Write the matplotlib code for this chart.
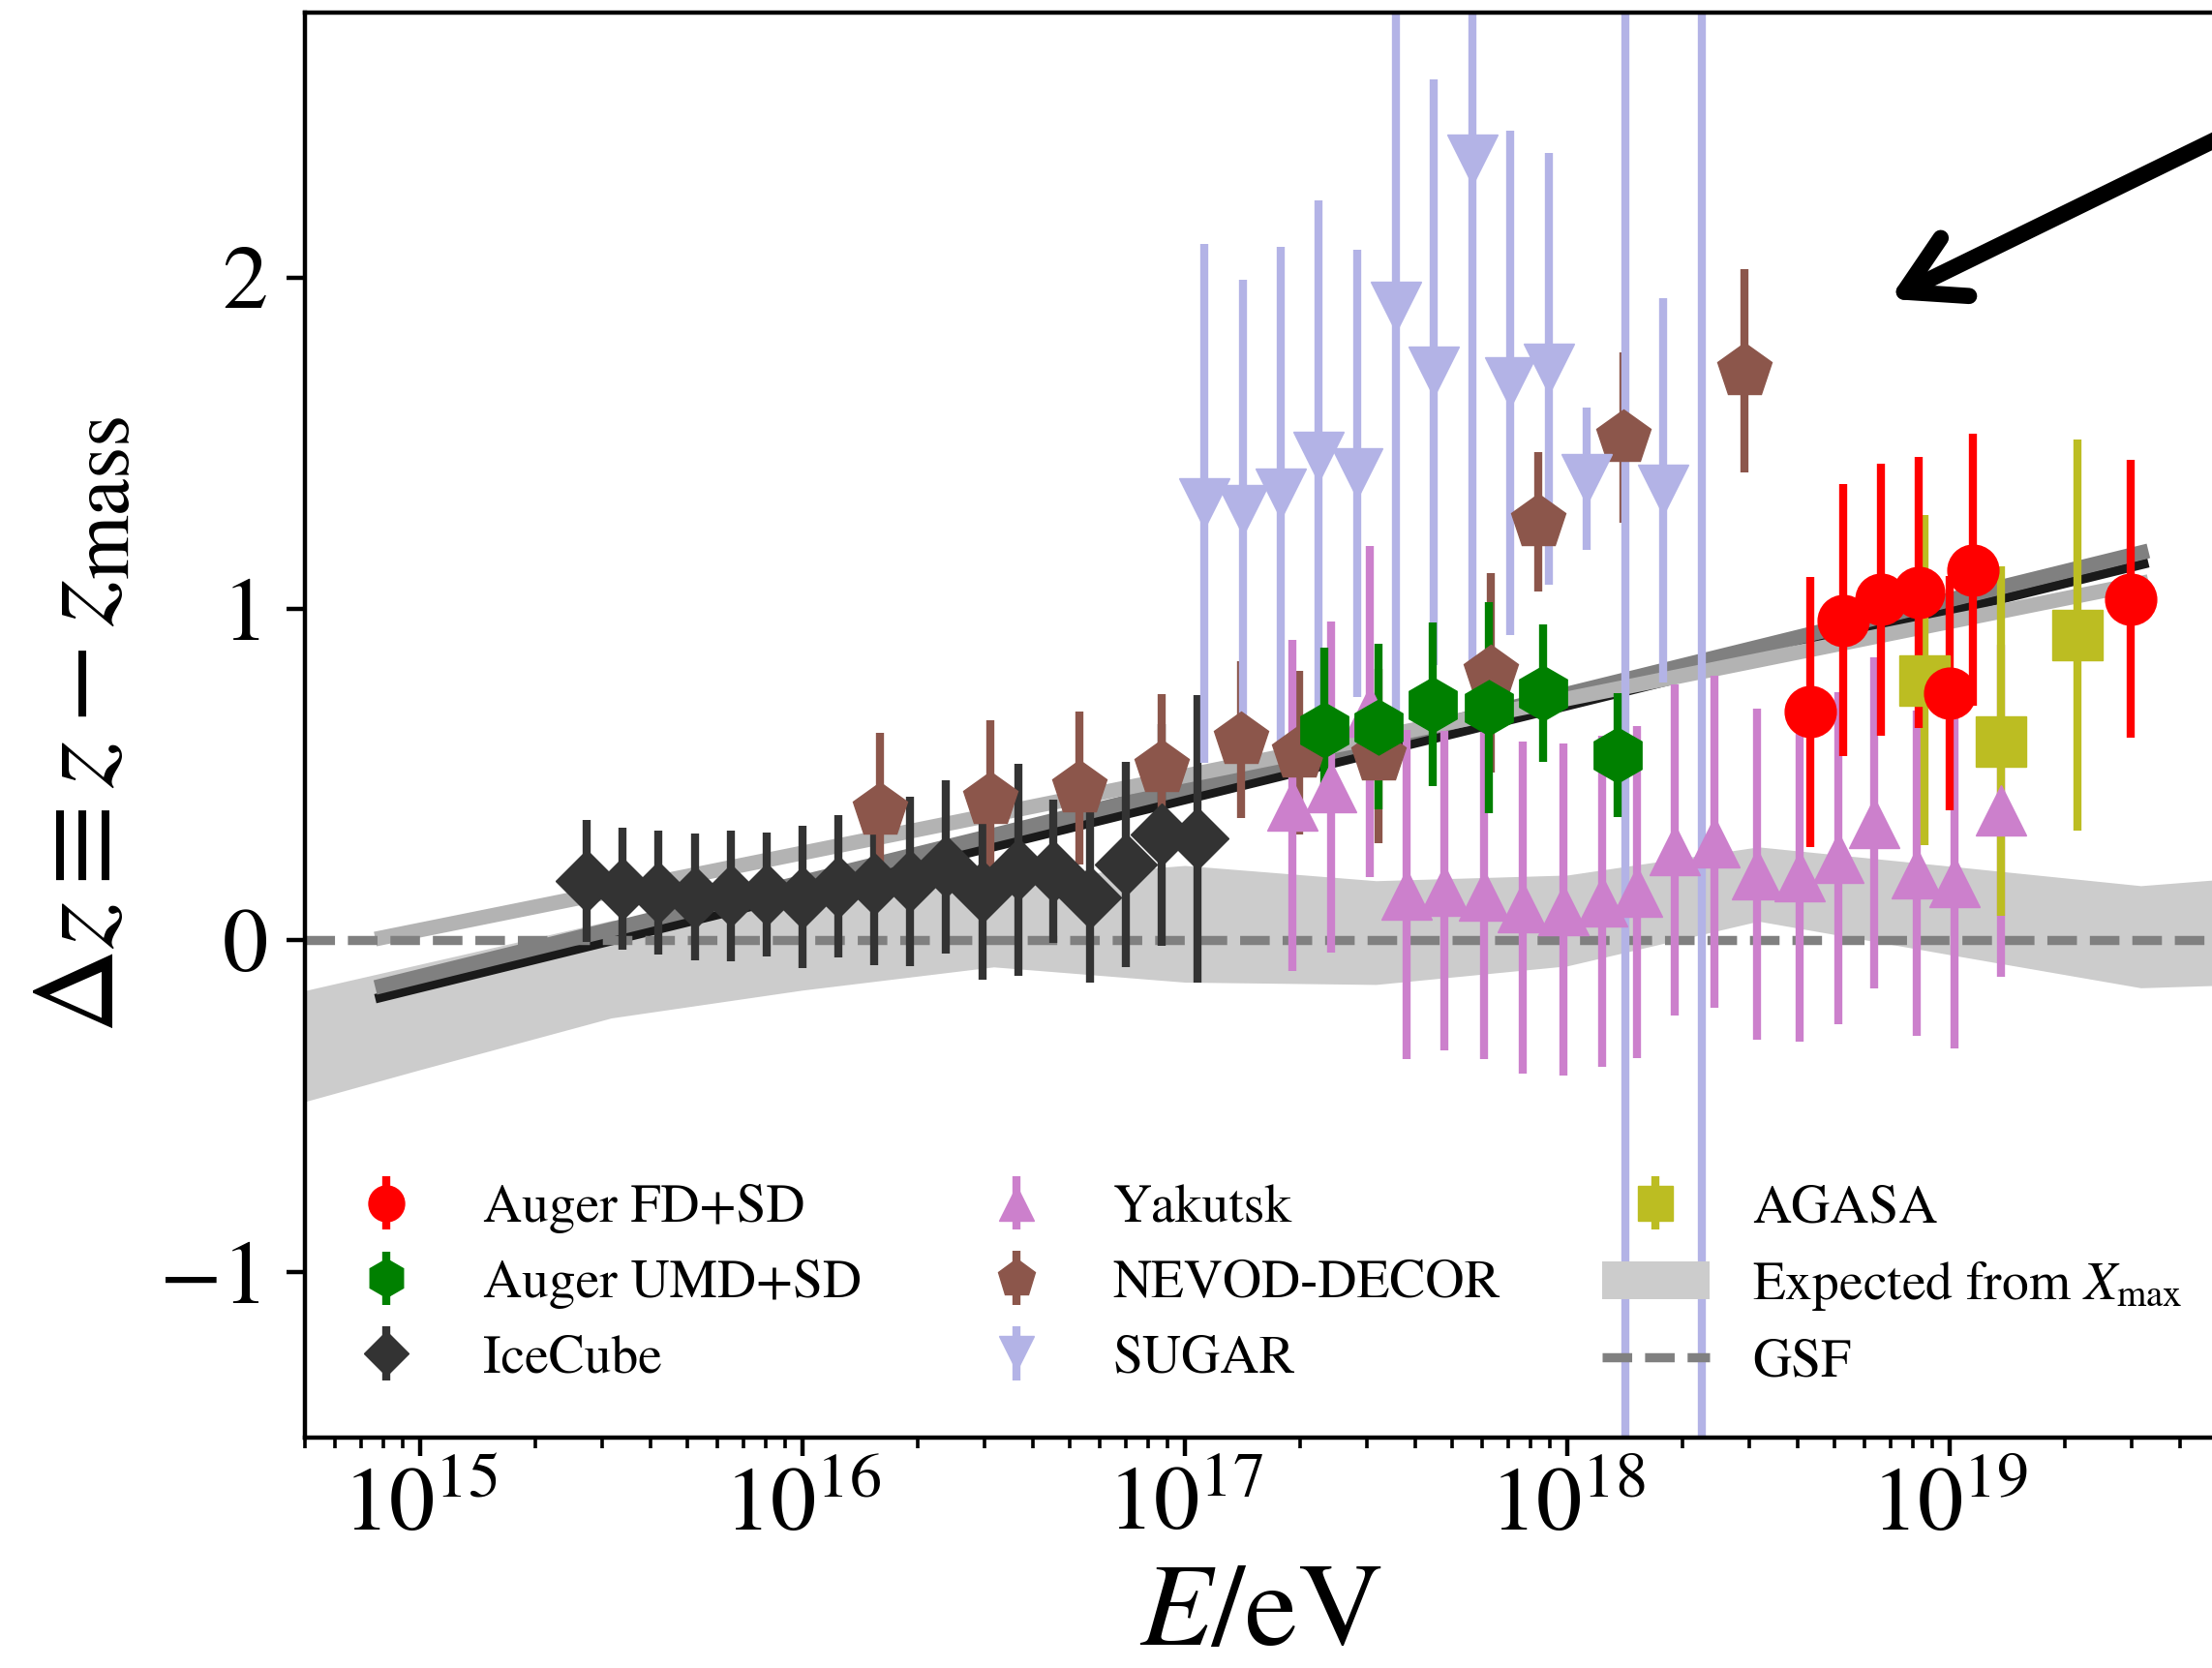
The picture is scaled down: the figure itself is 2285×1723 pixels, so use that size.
import numpy as np
import matplotlib
matplotlib.use('Agg')
import matplotlib.pyplot as plt

plt.rcParams['font.family'] = ['STIXGeneral', 'DejaVu Sans']
plt.rcParams['mathtext.fontset'] = 'stix'
plt.rcParams['axes.unicode_minus'] = True

# ---------------- data (log10(E/eV), Delta z, error) ----------------
icecube_logE = [15.435, 15.529, 15.623, 15.718, 15.812, 15.906, 16.000, 16.094, 16.188,
                16.282, 16.376, 16.470, 16.564, 16.657, 16.751, 16.845, 16.939, 17.033]
icecube_dz = [0.180, 0.156, 0.144, 0.130, 0.134, 0.139, 0.131, 0.163, 0.170,
              0.178, 0.222, 0.146, 0.213, 0.209, 0.130, 0.229, 0.318, 0.307]
icecube_err = [0.184, 0.185, 0.186, 0.191, 0.197, 0.187, 0.216, 0.215, 0.245,
               0.256, 0.261, 0.264, 0.320, 0.216, 0.256, 0.310, 0.333, 0.433]

nevod_logE = [16.204, 16.492, 16.725, 16.940, 17.147, 17.298, 17.506, 17.801, 17.925, 18.147, 18.463]
nevod_dz = [0.393, 0.425, 0.459, 0.522, 0.606, 0.566, 0.556, 0.807, 1.263, 1.518, 1.719]
nevod_err = [0.233, 0.238, 0.230, 0.222, 0.236, 0.246, 0.263, 0.300, 0.210, 0.257, 0.307]

sugar_logE = [17.051, 17.151, 17.251, 17.350, 17.450, 17.551, 17.652, 17.751, 17.851,
              17.951, 18.051, 18.151, 18.251, 18.352]
sugar_dz = [1.319, 1.297, 1.346, 1.459, 1.409, 1.911, 1.714, 2.356, 1.682,
            1.724, 1.392, 3.500, 1.358, 3.500]
sugar_err = [0.783, 0.697, 0.747, 0.773, 0.674, 1.227, 0.883, 1.537, 0.762,
             0.650, 0.215, 6.000, 0.579, 6.000]

yakutsk_logE = [17.282, 17.383, 17.485, 17.579, 17.678, 17.783, 17.885, 17.989, 18.091, 18.182,
                18.282, 18.385, 18.497, 18.609, 18.710, 18.802, 18.913, 19.013, 19.134]
yakutsk_dz = [0.407, 0.462, 0.690, 0.139, 0.150, 0.135, 0.099, 0.093, 0.118, 0.146,
              0.273, 0.297, 0.200, 0.195, 0.248, 0.354, 0.203, 0.175, 0.391]
yakutsk_err = [0.500, 0.500, 0.500, 0.497, 0.483, 0.494, 0.500, 0.500, 0.500, 0.500,
               0.500, 0.500, 0.500, 0.500, 0.500, 0.500, 0.490, 0.500, 0.500]

agasa_logE = [18.934, 19.134, 19.335]
agasa_dz = [0.785, 0.600, 0.921]
agasa_err = [0.497, 0.527, 0.590]

umd_logE = [17.364, 17.507, 17.648, 17.795, 17.938, 18.132]
umd_dz = [0.634, 0.645, 0.712, 0.702, 0.745, 0.559]
umd_err = [0.250, 0.250, 0.247, 0.317, 0.207, 0.188]

fd_logE = [18.636, 18.721, 18.821, 18.920, 19.000, 19.061, 19.473]
fd_dz = [0.689, 0.966, 1.028, 1.049, 0.745, 1.117, 1.030]
fd_err = [0.407, 0.410, 0.410, 0.408, 0.353, 0.410, 0.420]

# expected band from Xmax
band_logE = [14.5, 15.0, 15.5, 16.0, 16.5, 17.0, 17.5, 18.0, 18.5, 19.0, 19.5, 20.0]
band_lo = [-0.55, -0.39, -0.234, -0.150, -0.080, -0.126, -0.133, -0.077, 0.058, -0.043, -0.143, -0.125]
band_hi = [-0.204, -0.072, 0.06, 0.12, 0.18, 0.226, 0.180, 0.197, 0.282, 0.224, 0.165, 0.21]

# fitted lines
fit_logE = [14.883, 19.52]
fit_black = [-0.176, 1.139]
fit_dark = [-0.142, 1.175]
fit_light = [0.004, 1.082]

labels = ['Auger FD+SD', 'Auger UMD+SD', 'IceCube', 'Yakutsk', 'NEVOD-DECOR', 'SUGAR',
          'AGASA', r'Expected from $X_{\rm max}$', 'GSF']

# ---------------- figure ----------------
W, H = 2285, 1723
fig = plt.figure(figsize=(W / 100, H / 100), dpi=100)
ax = fig.add_axes([315 / W, 1 - 1485 / H, 1975 / W, (1485 - 12.6) / H])
ax.set_xscale('log')

E = lambda a: 10 ** np.asarray(a, dtype=float)

band = ax.fill_between(E(band_logE), band_lo, band_hi, color='#cccccc', lw=0, zorder=1)
ax.plot(E(fit_logE), fit_black, color='#1a1a1a', lw=7, solid_capstyle='butt', zorder=1.5)
ax.plot(E(fit_logE), fit_dark, color='#808080', lw=11, solid_capstyle='butt', zorder=1.6)
ax.plot(E(fit_logE), fit_light, color='#b3b3b3', lw=11, solid_capstyle='butt', zorder=1.7)
gsf = ax.axhline(0, color='#808080', lw=6.8, ls=(0, (22 / 6.8, 9.6 / 6.8)), zorder=1.9)

ekw = dict(elinewidth=6, capsize=0, linestyle='none')
h_ice = ax.errorbar(E(icecube_logE), icecube_dz, yerr=icecube_err, fmt='D', color='#333333', ms=33, **ekw)
h_nev = ax.errorbar(E(nevod_logE), nevod_dz, yerr=nevod_err, fmt='p', color='#8c564b', ms=42, **ekw)
h_sug = ax.errorbar(E(sugar_logE), sugar_dz, yerr=sugar_err, fmt='v', color='#b3b3e6', ms=38, **ekw)
h_yak = ax.errorbar(E(yakutsk_logE), yakutsk_dz, yerr=yakutsk_err, fmt='^', color='#cc80cc', ms=38, **ekw)
h_aga = ax.errorbar(E(agasa_logE), agasa_dz, yerr=agasa_err, fmt='s', color='#bcbd22', ms=37, **ekw)
h_umd = ax.errorbar(E(umd_logE), umd_dz, yerr=umd_err, fmt='h', color='green', ms=41, **ekw)
h_fd = ax.errorbar(E(fd_logE), fd_dz, yerr=fd_err, fmt='o', color='red', ms=38, **ekw)

ax.annotate('', xy=(10 ** 18.843, 1.935), xytext=(10 ** 20.484, 2.86),
            arrowprops=dict(arrowstyle='->,head_length=0.42,head_width=0.24',
                            mutation_scale=100, lw=12, color='k', shrinkA=0, shrinkB=0),
            annotation_clip=False, zorder=5)

ax.set_xlim(5e14, 5e19)
ax.set_ylim(-1.5, 2.8)
ax.set_yticks([-1, 0, 1, 2])

for s in ax.spines.values():
    s.set_linewidth(3.2)
ax.tick_params(axis='both', which='major', length=13.7, width=3.2, labelsize=68, direction='out')
ax.tick_params(axis='x', which='minor', length=8, width=2.6, direction='out')
ax.tick_params(axis='y', which='major', pad=14)
ax.tick_params(axis='x', which='major', pad=9)
ax.tick_params(top=False, right=False, which='both')

ax.set_xlabel(r'$E/\mathrm{eV}$', fontsize=88, labelpad=11)
ax.set_ylabel(r'$\Delta z \equiv z - z_{\rm mass}$', fontsize=88, labelpad=15)

ax.legend([h_fd, h_umd, h_ice, h_yak, h_nev, h_sug, h_aga, band, gsf], labels,
          ncol=3, loc='lower left', bbox_to_anchor=(0.003, 0.020), borderaxespad=0,
          frameon=False, fontsize=40, markerscale=0.7, handlelength=2.0,
          handletextpad=0.8, columnspacing=1.88, labelspacing=0.48)

fig.savefig('out.png', dpi=100)
